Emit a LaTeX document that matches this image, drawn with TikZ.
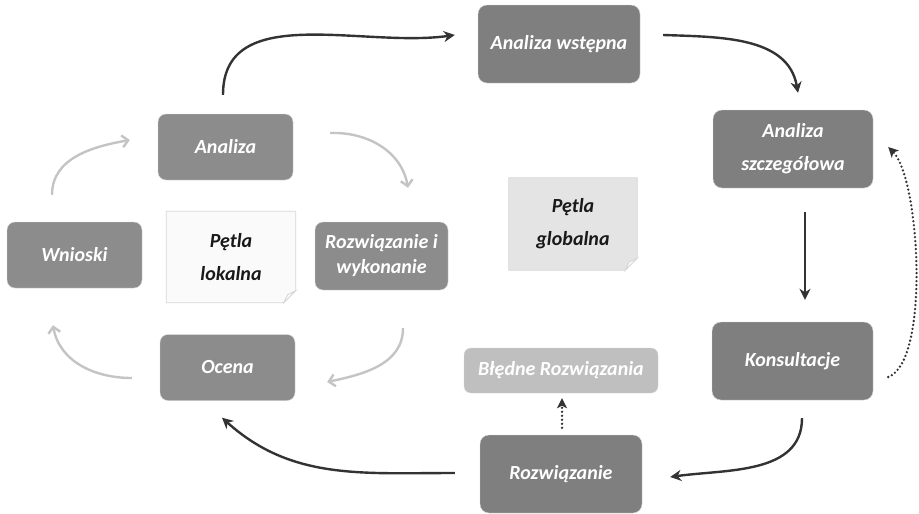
\documentclass[tikz,border=0pt]{standalone}
\usepackage{fontspec}
\setmainfont{Carlito}[BoldFont={Carlito Bold}, ItalicFont={Carlito Italic}, BoldItalicFont={Carlito Bold Italic}]
\usepackage{tikz}
\usetikzlibrary{arrows.meta,positioning,backgrounds}

\definecolor{boxdark}{HTML}{7F7F7F}
\definecolor{boxmid}{HTML}{8C8C8C}
\definecolor{boxlight}{HTML}{BFBFBF}
\definecolor{boxrim}{HTML}{D6D6D6}
\definecolor{loopgray}{HTML}{C4C4C4}
\definecolor{notelight}{HTML}{FAFAFA}
\definecolor{notegray}{HTML}{E4E4E4}

\begin{document}
\begin{tikzpicture}[
  x=1pt, y=1pt,
  font=\fontsize{20}{33}\selectfont\bfseries\itshape,
  stage/.style={draw=boxrim, fill=boxdark, rounded corners=9pt, align=center, text=white,
    minimum width=162pt, minimum height=78pt, inner sep=2pt},
  local/.style={stage, fill=boxmid, minimum width=135pt, minimum height=66pt, rounded corners=8pt},
  note/.style={align=center, text=black!90, minimum width=129pt, minimum height=91pt, inner sep=2pt},
  flow/.style={-{Stealth[length=11pt,width=11pt,inset=3.5pt]}, line width=2.4pt, black!80},
  loop/.style={-{Straight Barb[length=6pt,width=12pt]}, line width=2.4pt, loopgray},
  back/.style={-{Stealth[length=10pt,width=10pt,inset=2.5pt,line cap=butt]}, line width=2.6pt, black!80,
    line cap=round, dash pattern=on 0pt off 4pt}
]
\useasboundingbox (0,0) rectangle (919,-514);

% global loop
\node[stage] (wstep) at (559,-44) {Analiza wstępna};
\node[stage, minimum width=160pt] (szczeg) at (793,-149) {Analiza\\szczegółowa};
\node[stage, minimum width=161pt] (konsult) at (792.5,-361) {Konsultacje};
\node[stage] (rozw) at (561,-474) {Rozwiązanie};
\node[stage, fill=boxlight, minimum width=194pt, minimum height=45pt, rounded corners=7pt] (bledne) at (561,-370.5) {Błędne Rozwiązania};

% local loop
\node[local] (anal) at (225.5,-147) {Analiza};
\node[local, minimum width=133pt, minimum height=68pt, font=\fontsize{20}{25}\selectfont\bfseries\itshape] (wyk) at (381.5,-256) {Rozwiązanie i\\wykonanie};
\node[local] (ocena) at (227.5,-367.5) {Ocena};
\node[local] (wnioski) at (74.5,-255) {Wnioski};

% notes
\node[note] (plok) at (231,-257) {Pętla\\lokalna};
\node[note, minimum width=128pt, minimum height=92pt] (pglob) at (573,-224) {Pętla\\globalna};
\begin{scope}[on background layer]
\foreach \n/\c in {plok/notelight, pglob/notegray} {
  \draw[boxrim, fill=\c, line width=0.8pt] (\n.north west) -- (\n.north east) -- ([yshift=12pt]\n.south east)
    -- ([xshift=-12pt]\n.south east) -- (\n.south west) -- cycle;
  \draw[boxrim, fill=white, line width=0.8pt] ([yshift=12pt]\n.south east) -- ([xshift=-12pt]\n.south east)
    -- ([xshift=-8pt,yshift=8pt]\n.south east) -- cycle;
}
\end{scope}

% global arrows
\draw[flow] ([xshift=-2.5pt,yshift=19pt]anal.north) to[out=90,in=188] ([xshift=-23pt,yshift=9pt]wstep.west);
\draw[flow] ([xshift=23pt,yshift=9pt]wstep.east) to[out=-2,in=100] ([xshift=5pt,yshift=17pt]szczeg.north);
\draw[flow] ([xshift=12pt,yshift=-24pt]szczeg.south) -- ([xshift=12.5pt,yshift=22pt]konsult.north);
\draw[flow] ([xshift=9.5pt,yshift=-18pt]konsult.south) to[out=-90,in=8] ([xshift=28pt,yshift=-3pt]rozw.east);
\draw[flow] ([xshift=-25pt,yshift=1pt]rozw.west) to[out=180,in=-42] ([xshift=-5.5pt,yshift=-17pt]ocena.south);
\draw[back] ([xshift=15pt,yshift=-16pt]konsult.east) to[out=20,in=-45,looseness=0.5] ([xshift=15pt,yshift=2pt]szczeg.east);
\draw[back] ([xshift=1pt,yshift=7pt]rozw.north) -- ([xshift=1pt,yshift=-5pt]bledne.south);

% local arrows
\draw[loop] ([xshift=37pt,yshift=14pt]anal.east) to[out=2,in=100] ([xshift=26.5pt,yshift=34pt]wyk.north);
\draw[loop] ([xshift=21.5pt,yshift=-38pt]wyk.south) to[out=-90,in=12] ([xshift=32pt,yshift=-14.5pt]ocena.east);
\draw[loop] ([xshift=-28pt,yshift=-10.5pt]ocena.west) to[out=180,in=-80] ([xshift=-21.5pt,yshift=-37pt]wnioski.south);
\draw[loop] ([xshift=-22.5pt,yshift=27pt]wnioski.north) to[out=90,in=190] ([xshift=-28pt,yshift=7pt]anal.west);
\end{tikzpicture}
\end{document}
